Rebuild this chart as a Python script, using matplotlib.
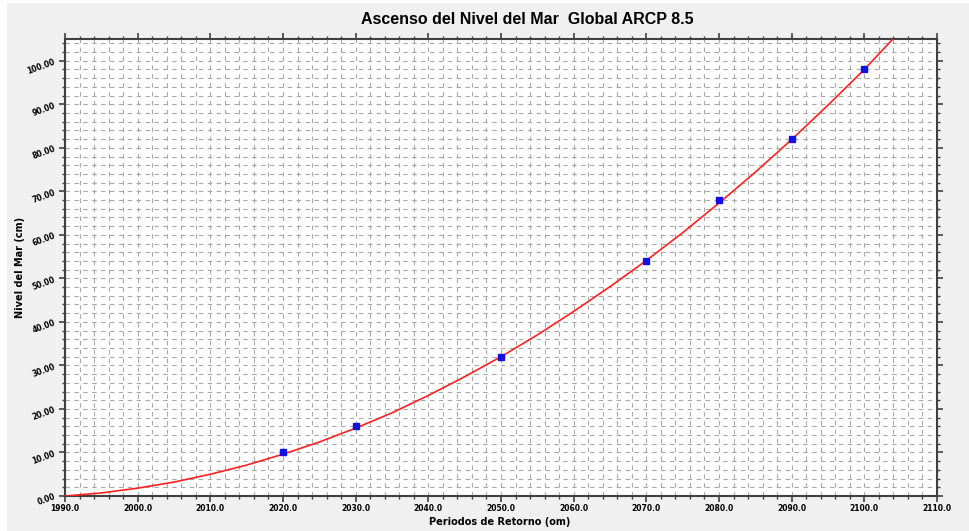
import matplotlib
matplotlib.use("Agg")
import matplotlib.pyplot as plt
from matplotlib.ticker import MultipleLocator, FormatStrFormatter
from matplotlib.patches import Rectangle

# data points (year, sea level cm)
years = [2020, 2030, 2050, 2070, 2080, 2090, 2100]
levels = [10.0, 16.0, 32.0, 54.0, 68.0, 82.0, 98.0]

# fitted curve
curve_years = [1990, 1995, 2000, 2005, 2010, 2015, 2020, 2025, 2030, 2035, 2040,
               2045, 2050, 2055, 2060, 2065, 2070, 2075, 2080, 2085, 2090, 2095,
               2100, 2105]
curve_levels = [0.0, 0.7, 1.8, 3.2, 5.0, 7.1, 9.6, 12.4, 15.6, 19.1, 23.1,
                27.4, 32.0, 37.0, 42.4, 48.1, 54.1, 60.5, 67.3, 74.4, 81.9, 89.8,
                98.0, 106.9]

title = "Ascenso del Nivel del Mar  Global ARCP 8.5"
xlabel = "Periodos de Retorno (om)"
ylabel = "Nivel del Mar (cm)"

fig = plt.figure(figsize=(9.69, 5.31), dpi=100)
fig.patch.set_facecolor("white")
fig.patches.append(Rectangle((7/969, 0), 1, 1 - 3/531, transform=fig.transFigure,
                             facecolor="#f0f0f0", edgecolor="none", zorder=-10))

ax = fig.add_axes([65/969, 1 - 496/531, (937 - 65)/969, (496 - 39)/531])
ax.set_facecolor("white")

ax.plot(curve_years, curve_levels, color="#ff2020", lw=1.2, zorder=3)
ax.plot(years, levels, "s", color="#1010e0", ms=4.5, zorder=4)

ax.set_xlim(1990, 2110)
ax.set_ylim(0, 105)
ax.xaxis.set_major_locator(MultipleLocator(10))
ax.xaxis.set_minor_locator(MultipleLocator(2))
ax.yaxis.set_major_locator(MultipleLocator(10))
ax.yaxis.set_minor_locator(MultipleLocator(2))
ax.xaxis.set_major_formatter(FormatStrFormatter("%.1f"))
ax.yaxis.set_major_formatter(FormatStrFormatter("%.2f"))

ax.grid(True, which="both", color="#a8a8a8", linestyle=(0, (4, 4)), lw=0.8, zorder=0)
ax.set_axisbelow(True)

for s in ax.spines.values():
    s.set_color("#404040")
    s.set_linewidth(1.5)

ax.tick_params(which="both", direction="out", top=True, right=True, color="#404040")
ax.tick_params(which="major", length=4, width=1.2, labelsize=5.5, pad=2)
ax.tick_params(which="minor", length=2, width=1)
for lab in ax.get_xticklabels():
    lab.set_fontweight("bold")
for lab in ax.get_yticklabels():
    lab.set_fontweight("bold")
    lab.set_rotation(20)

fig.text(500/969, 1 - 522/531, xlabel, ha="center", va="center", fontsize=7,
         fontweight="bold")
fig.text(20/969, 1 - 267/531, ylabel, ha="center", va="center", fontsize=7,
         fontweight="bold", rotation=90)
fig.text(527/969, 1 - 19/531, title, ha="center", va="center", fontsize=11.5,
         fontweight="bold", family="Liberation Sans")

fig.savefig("out.png", dpi=100, facecolor=fig.get_facecolor())
